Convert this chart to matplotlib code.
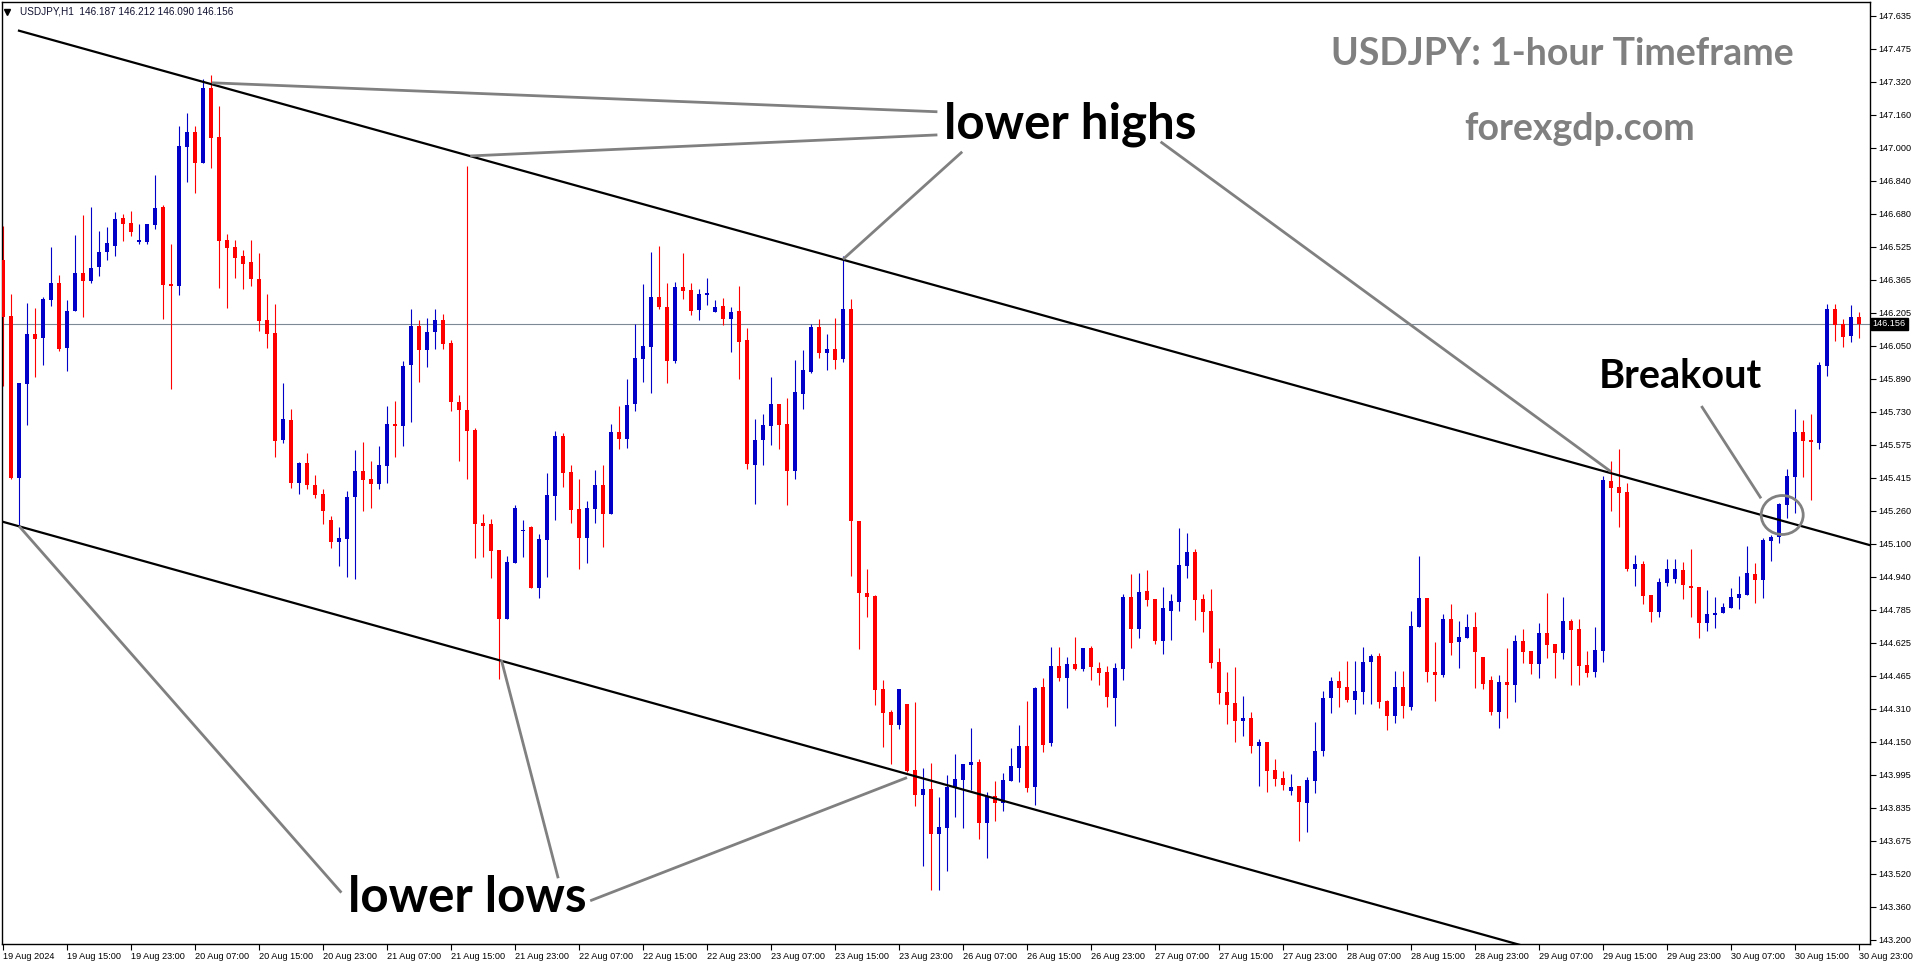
import matplotlib
matplotlib.use("Agg")
import matplotlib.pyplot as plt
from matplotlib.patches import Ellipse
from matplotlib import font_manager
import numpy as np

# USDJPY H1, 19 Aug 07:00 .. 30 Aug 23:00 (233 bars)
opens = [
    146.462, 146.193, 145.416, 145.867, 146.107, 146.088, 146.270, 146.352, 146.040, 146.217,
    146.400, 146.361, 146.428, 146.500, 146.529, 146.664, 146.640, 146.548, 146.548, 146.630,
    146.716, 146.347, 146.337, 147.004, 147.076, 146.928, 147.288, 147.052, 146.558, 146.524,
    146.481, 146.452, 146.371, 146.174, 146.112, 145.598, 145.694, 145.392, 145.488, 145.382,
    145.339, 145.214, 145.108, 145.123, 145.324, 145.449, 145.411, 145.387, 145.473, 145.675,
    145.665, 145.958, 146.145, 146.030, 146.116, 146.174, 146.064, 145.780, 145.742, 145.646,
    145.200, 145.195, 145.070, 144.739, 145.008, 145.161, 145.180, 144.888, 145.118, 145.329,
    145.617, 145.444, 145.267, 145.128, 145.267, 145.382, 145.243, 145.636, 145.603, 145.771,
    145.987, 146.044, 146.284, 146.236, 145.977, 146.332, 146.318, 146.222, 146.294, 146.212,
    146.241, 146.179, 146.217, 146.078, 145.478, 145.598, 145.665, 145.771, 145.675, 145.449,
    145.819, 145.924, 146.140, 146.016, 146.035, 145.987, 146.227, 145.209, 144.864, 144.849,
    144.403, 144.292, 144.230, 144.331, 144.014, 143.894, 143.923, 143.707, 143.736, 143.928,
    143.966, 144.038, 144.052, 143.760, 143.889, 143.856, 143.961, 144.024, 144.129, 143.932,
    144.412, 144.144, 144.513, 144.456, 144.523, 144.499, 144.600, 144.504, 144.484, 144.360,
    144.499, 144.844, 144.691, 144.873, 144.835, 144.633, 144.777, 144.820, 144.993, 145.060,
    144.835, 144.777, 144.532, 144.388, 144.336, 144.249, 144.264, 144.129, 144.148, 144.014,
    143.976, 143.913, 143.937, 143.856, 143.961, 144.105, 144.360, 144.441, 144.412, 144.350,
    144.388, 144.532, 144.561, 144.345, 144.273, 144.412, 144.316, 144.700, 144.840, 144.484,
    144.470, 144.739, 144.628, 144.648, 144.700, 144.556, 144.446, 144.292, 144.436, 144.422,
    144.633, 144.585, 144.523, 144.672, 144.619, 144.576, 144.729, 144.691, 144.518, 144.484,
    144.585, 145.401, 145.372, 145.348, 144.979, 145.003, 144.854, 144.772, 144.912, 144.931,
    144.974, 144.897, 144.892, 144.720, 144.758, 144.768, 144.792, 144.840, 144.854, 144.955,
    144.926, 145.113, 145.132, 145.286, 145.420, 145.636, 145.598, 145.584, 145.953, 146.227,
    146.155, 146.097, 146.187]
highs = [
    146.625, 146.299, 145.872, 146.256, 146.232, 146.284, 146.524, 146.390, 146.270, 146.582,
    146.678, 146.716, 146.601, 146.620, 146.692, 146.683, 146.697, 146.635, 146.635, 146.870,
    146.726, 146.539, 147.105, 147.168, 147.105, 147.331, 147.350, 147.201, 146.587, 146.558,
    146.510, 146.558, 146.496, 146.299, 146.251, 145.872, 145.747, 145.492, 145.536, 145.430,
    145.363, 145.233, 145.180, 145.353, 145.550, 145.588, 145.497, 145.569, 145.761, 145.785,
    145.977, 146.227, 146.174, 146.184, 146.227, 146.203, 146.078, 145.814, 146.913, 145.656,
    145.243, 145.219, 145.070, 145.041, 145.286, 145.214, 145.185, 145.147, 145.440, 145.641,
    145.632, 145.478, 145.411, 145.305, 145.454, 145.478, 145.675, 145.761, 145.891, 146.155,
    146.347, 146.500, 146.529, 146.352, 146.356, 146.496, 146.352, 146.323, 146.376, 146.270,
    146.280, 146.236, 146.337, 146.136, 145.699, 145.723, 145.900, 145.771, 145.800, 145.982,
    146.030, 146.155, 146.179, 146.107, 146.184, 146.481, 146.275, 145.209, 144.979, 144.854,
    144.446, 144.302, 144.403, 144.331, 144.340, 144.024, 144.048, 143.884, 143.990, 144.091,
    144.043, 144.216, 144.067, 143.908, 143.961, 144.000, 144.120, 144.230, 144.345, 144.412,
    144.456, 144.604, 144.604, 144.556, 144.652, 144.600, 144.609, 144.532, 144.513, 144.528,
    144.859, 144.955, 144.960, 144.974, 144.835, 144.892, 144.859, 145.176, 145.152, 145.075,
    144.859, 144.883, 144.600, 144.484, 144.508, 144.369, 144.292, 144.163, 144.148, 144.067,
    144.009, 143.995, 143.937, 143.980, 144.244, 144.393, 144.460, 144.489, 144.537, 144.537,
    144.604, 144.571, 144.576, 144.350, 144.489, 144.489, 144.777, 145.041, 144.840, 144.628,
    144.763, 144.811, 144.729, 144.763, 144.772, 144.556, 144.465, 144.470, 144.600, 144.662,
    144.691, 144.585, 144.720, 144.864, 144.619, 144.844, 144.739, 144.739, 144.585, 144.700,
    145.425, 145.497, 145.555, 145.392, 145.046, 145.017, 144.854, 144.936, 145.027, 145.027,
    145.012, 145.075, 144.892, 144.878, 144.844, 144.816, 144.888, 144.945, 145.089, 145.008,
    145.128, 145.142, 145.296, 145.459, 145.747, 145.694, 145.723, 145.972, 146.251, 146.251,
    146.179, 146.246, 146.212]
lows = [
    145.857, 145.411, 145.185, 145.670, 145.900, 145.958, 146.241, 146.025, 145.929, 146.217,
    146.188, 146.352, 146.385, 146.462, 146.481, 146.553, 146.577, 146.539, 146.539, 146.611,
    146.179, 145.843, 146.294, 146.836, 146.784, 146.928, 146.904, 146.328, 146.232, 146.376,
    146.323, 146.337, 146.121, 146.040, 145.516, 145.584, 145.368, 145.339, 145.363, 145.320,
    145.195, 145.080, 144.993, 144.940, 144.931, 145.257, 145.272, 145.363, 145.392, 145.516,
    145.569, 145.684, 145.876, 145.948, 146.035, 146.035, 145.737, 145.497, 145.411, 145.032,
    145.036, 144.936, 144.451, 144.739, 145.008, 145.036, 144.888, 144.840, 144.940, 145.214,
    145.372, 145.200, 144.979, 145.008, 145.200, 145.084, 145.243, 145.555, 145.560, 145.737,
    145.876, 145.824, 146.227, 145.872, 145.968, 146.275, 146.198, 146.174, 146.246, 146.212,
    146.150, 146.020, 145.891, 145.459, 145.291, 145.478, 145.574, 145.555, 145.286, 145.411,
    145.747, 145.920, 145.992, 145.934, 145.939, 145.972, 144.945, 144.595, 144.748, 144.326,
    144.124, 144.043, 144.211, 144.004, 143.841, 143.553, 143.438, 143.438, 143.529, 143.788,
    143.736, 143.918, 143.683, 143.592, 143.769, 143.817, 143.961, 143.956, 143.908, 143.846,
    144.100, 144.129, 144.441, 144.312, 144.494, 144.489, 144.446, 144.422, 144.316, 144.225,
    144.446, 144.600, 144.648, 144.801, 144.619, 144.571, 144.638, 144.777, 144.936, 144.734,
    144.676, 144.504, 144.331, 144.235, 144.148, 144.177, 144.096, 143.937, 143.908, 143.937,
    143.918, 143.894, 143.673, 143.716, 143.904, 144.081, 144.288, 144.316, 144.340, 144.283,
    144.331, 144.331, 144.312, 144.206, 144.240, 144.264, 144.302, 144.700, 144.436, 144.345,
    144.460, 144.566, 144.504, 144.648, 144.408, 144.403, 144.278, 144.216, 144.264, 144.340,
    144.528, 144.475, 144.456, 144.552, 144.456, 144.547, 144.422, 144.422, 144.460, 144.460,
    144.532, 145.257, 145.180, 144.969, 144.897, 144.811, 144.724, 144.748, 144.897, 144.912,
    144.835, 144.748, 144.648, 144.681, 144.696, 144.768, 144.792, 144.787, 144.854, 144.816,
    144.840, 145.017, 145.104, 145.224, 145.248, 145.420, 145.310, 145.555, 145.905, 146.073,
    146.044, 146.068, 146.090]
closes = [
    146.188, 145.416, 145.872, 146.107, 146.083, 146.275, 146.352, 146.035, 146.217, 146.400,
    146.361, 146.424, 146.500, 146.544, 146.659, 146.635, 146.596, 146.558, 146.635, 146.712,
    146.342, 146.337, 147.009, 147.076, 146.928, 147.288, 147.048, 146.553, 146.520, 146.472,
    146.443, 146.371, 146.169, 146.107, 145.593, 145.699, 145.392, 145.488, 145.382, 145.334,
    145.257, 145.108, 145.128, 145.324, 145.449, 145.406, 145.387, 145.478, 145.675, 145.665,
    145.953, 146.145, 146.030, 146.116, 146.174, 146.059, 145.780, 145.742, 145.641, 145.195,
    145.185, 145.065, 144.739, 145.012, 145.272, 145.166, 144.888, 145.123, 145.334, 145.617,
    145.440, 145.262, 145.128, 145.272, 145.382, 145.243, 145.636, 145.603, 145.766, 145.992,
    146.049, 146.284, 146.236, 145.977, 146.332, 146.313, 146.217, 146.299, 146.304, 146.236,
    146.179, 146.212, 146.068, 145.483, 145.598, 145.670, 145.771, 145.670, 145.449, 145.828,
    145.934, 146.140, 146.016, 146.035, 145.982, 146.227, 145.209, 144.864, 144.844, 144.398,
    144.288, 144.230, 144.403, 144.009, 143.894, 143.923, 143.707, 143.740, 143.932, 143.971,
    144.043, 144.052, 143.760, 143.884, 143.856, 143.966, 144.033, 144.129, 143.928, 144.408,
    144.134, 144.513, 144.456, 144.523, 144.499, 144.600, 144.508, 144.480, 144.364, 144.504,
    144.844, 144.691, 144.868, 144.830, 144.633, 144.792, 144.825, 144.998, 145.060, 144.830,
    144.772, 144.528, 144.384, 144.326, 144.249, 144.264, 144.129, 144.148, 144.009, 143.971,
    143.942, 143.932, 143.860, 143.966, 144.105, 144.360, 144.441, 144.408, 144.350, 144.393,
    144.532, 144.561, 144.340, 144.273, 144.412, 144.321, 144.705, 144.840, 144.484, 144.470,
    144.739, 144.624, 144.652, 144.700, 144.580, 144.427, 144.292, 144.436, 144.422, 144.633,
    144.580, 144.523, 144.672, 144.614, 144.576, 144.729, 144.686, 144.513, 144.480, 144.590,
    145.406, 145.368, 145.344, 144.979, 145.003, 144.849, 144.772, 144.916, 144.979, 144.979,
    144.902, 144.888, 144.720, 144.763, 144.768, 144.796, 144.844, 144.859, 144.960, 144.926,
    145.118, 145.132, 145.291, 145.425, 145.636, 145.593, 145.588, 145.958, 146.227, 146.150,
    146.092, 146.188, 146.156]

x_labels = ["19 Aug 2024", "19 Aug 15:00", "19 Aug 23:00", "20 Aug 07:00", "20 Aug 15:00",
            "20 Aug 23:00", "21 Aug 07:00", "21 Aug 15:00", "21 Aug 23:00", "22 Aug 07:00",
            "22 Aug 15:00", "22 Aug 23:00", "23 Aug 07:00", "23 Aug 15:00", "23 Aug 23:00",
            "26 Aug 07:00", "26 Aug 15:00", "26 Aug 23:00", "27 Aug 07:00", "27 Aug 15:00",
            "27 Aug 23:00", "28 Aug 07:00", "28 Aug 15:00", "28 Aug 23:00", "29 Aug 07:00",
            "29 Aug 15:00", "29 Aug 23:00", "30 Aug 07:00", "30 Aug 15:00", "30 Aug 23:00"]
y_labels = ["143.200", "143.360", "143.520", "143.675", "143.835", "143.995", "144.150",
            "144.310", "144.465", "144.625", "144.785", "144.940", "145.100", "145.260",
            "145.415", "145.575", "145.730", "145.890", "146.050", "146.205", "146.365",
            "146.525", "146.680", "146.840", "147.000", "147.160", "147.320", "147.475",
            "147.635"]

# channel lines (bar index, price)
upper_line = ([2.0, 233.4], [147.563, 145.094])
lower_line = ([-1.0, 200.0], [145.217, 143.065])
# grey pointer lines
pointers = [
    ([26.1, 116.8], [147.313, 147.174]),
    ([58.4, 116.8], [146.962, 147.063]),
    ([119.9, 105.0], [146.982, 146.466]),
    ([144.7, 201.0], [147.030, 145.447]),
    ([2.0, 42.3], [145.186, 143.427]),
    ([62.3, 69.4], [144.543, 143.496]),
    ([73.4, 113.0], [143.388, 143.979]),
    ([212.3, 219.75], [145.762, 145.319]),
]

fonts = {f.name for f in font_manager.fontManager.ttflist}
axis_font = "Liberation Sans Narrow" if "Liberation Sans Narrow" in fonts else "Liberation Sans"
axis_size = 8 if axis_font == "Liberation Sans Narrow" else 6.6
big_font = "Lato" if "Lato" in fonts else "DejaVu Sans"

fig = plt.figure(figsize=(19.16, 9.64), dpi=100)
ax = fig.add_axes([2 / 1916, 20 / 964, 1868 / 1916, 942 / 964])

o = np.array(opens)
h = np.array(highs)
l = np.array(lows)
c = np.array(closes)
x = np.arange(len(o))
cols = np.where(c >= o, "#0000c8", "#ff0000")

ax.axhline(c[-1], color="#7d8a96", lw=0.8, zorder=0)
ax.vlines(x, l, h, colors=cols, linewidth=0.8, zorder=2)
ax.bar(x, np.maximum(np.abs(c - o), 0.004), bottom=np.minimum(o, c), width=0.62,
       color=cols, linewidth=0, zorder=3)

ax.plot(*upper_line, color="black", lw=1.6, zorder=4)
ax.plot(*lower_line, color="black", lw=1.6, zorder=4)
for px, py in pointers:
    ax.plot(px, py, color="#808080", lw=2.0, zorder=5, solid_capstyle="butt")
ax.add_patch(Ellipse((222.4, 145.239), width=5.25, height=0.187, fill=False,
                     edgecolor="#808080", lw=2.0, zorder=5))

ax.text(117.6, 147.048, "lower highs", fontsize=35.5, fontweight="bold", family=big_font,
        ha="left", va="baseline", zorder=6)
ax.text(43.1, 143.334, "lower lows", fontsize=35.5, fontweight="bold", family=big_font,
        ha="left", va="baseline", zorder=6)
ax.text(199.5, 145.849, "Breakout", fontsize=28.5, fontweight="bold", family=big_font,
        ha="left", va="baseline", zorder=6)
ax.text(194.9, 147.398, "USDJPY: 1-hour Timeframe", fontsize=27, fontweight="bold",
        family=big_font, color="#808080", ha="center", va="baseline", zorder=6)
ax.text(197.1, 147.040, "forexgdp.com", fontsize=27, fontweight="bold",
        family=big_font, color="#808080", ha="center", va="baseline", zorder=6)

# header
ax.plot([0.0026], [0.9895], marker="v", color="black", markersize=4.5,
        transform=ax.transAxes, clip_on=False)
ax.text(0.0095, 0.9895, "USDJPY,H1  146.187 146.212 146.090 146.156", transform=ax.transAxes,
        fontsize=axis_size + 0.6, family=axis_font, color="#101030", ha="left", va="center")

ax.set_xlim(-0.125, 233.375)
ax.set_ylim(143.1805, 147.7007)

ax.set_xticks(np.arange(0, len(o), 8))
ax.set_xticklabels(x_labels, fontsize=axis_size, family=axis_font, ha="left")
ax.yaxis.tick_right()
ax.set_yticks(np.linspace(143.2, 147.635, len(y_labels)))
ax.set_yticklabels(y_labels, fontsize=axis_size, family=axis_font)
ax.tick_params(axis="x", length=4, width=0.8, pad=2)
ax.tick_params(axis="y", length=4, width=0.8, pad=2)
for lab in ax.get_xticklabels():
    lab.set_horizontalalignment("left")
for s in ax.spines.values():
    s.set_color("black")
    s.set_linewidth(1.0)

ax.text(1.0015, c[-1], "146.156", transform=ax.get_yaxis_transform(), fontsize=axis_size,
        family=axis_font, color="white", ha="left", va="center", zorder=10, clip_on=False,
        bbox=dict(boxstyle="square,pad=0.2", facecolor="black", edgecolor="black"))

fig.savefig("out.png", dpi=100, facecolor="white")
